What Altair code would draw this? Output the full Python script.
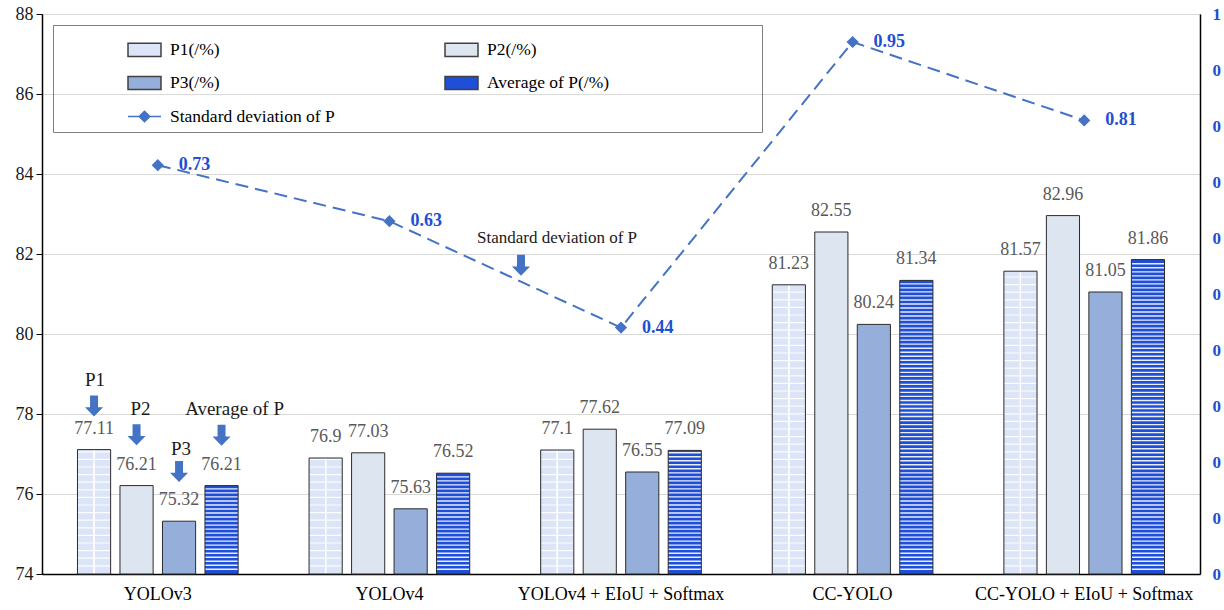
import altair as alt
import pandas as pd

# ---- data -------------------------------------------------------------
categories = ["YOLOv3", "YOLOv4", "YOLOv4 + EIoU + Softmax", "CC-YOLO",
              "CC-YOLO + EIoU + Softmax"]
p1 = [77.11, 76.9, 77.1, 81.23, 81.57]
p2 = [76.21, 77.03, 77.62, 82.55, 82.96]
p3 = [75.32, 75.63, 76.55, 80.24, 81.05]
avg_p = [76.21, 76.52, 77.09, 81.34, 81.86]
std_p = [0.73, 0.63, 0.44, 0.95, 0.81]

series = ["P1(/%)", "P2(/%)", "P3(/%)", "Average of P(/%)"]
std_name = "Standard deviation of P"
# legend entries, listed column by column (two columns, three rows)
legend_names = [series[0], series[2], std_name, series[1], series[3]]

left_ticks = [74, 76, 78, 80, 82, 84, 86, 88]
right_ticks = [0, 0.1, 0.2, 0.3, 0.4, 0.5, 0.6, 0.7, 0.8, 0.9, 1.0]

# callouts on the first group (text above a down arrow)
callout_text = ["P1", "P2", "P3", "Average of P"]
callout_text_y = [78.85, 78.12, 77.12, 78.12]
callout_arrow_y = [78.20, 77.48, 76.56, 77.47]
callout_dx = [1, 4, 2, 13]

# callout pointing at the standard-deviation line
std_callout_cat = "YOLOv4 + EIoU + Softmax"
std_callout_text_y = 82.39
std_callout_arrow_y = 81.72

# ---- styling -----------------------------------------------------------
FONT = "Liberation Serif"
Y_MIN, Y_MAX = 74, 88
series_fill = {"P1(/%)": "#dce4f8", "P2(/%)": "#dde5f0", "P3(/%)": "#96aeda",
               "Average of P(/%)": "#1f4fd8"}
LINE_BLUE = "#4472c4"
LABEL_BLUE = "#1f4fd1"
RECT_PATH = "M-1,-0.4H1V0.4H-1Z"
LINE_PATH = "M-1,0L1,0M0,-0.32L0.32,0L0,0.32L-0.32,0Z"
ARROW_PATH = "M-0.38,-1L0.38,-1L0.38,0.12L0.86,0.12L0,1L-0.86,0.12L-0.38,0.12Z"

# ---- tables ------------------------------------------------------------
bars = pd.DataFrame(
    [
        {"category": c, "series": s, "value": v, "label": f"{v:g}"}
        for s, vals in zip(series, [p1, p2, p3, avg_p])
        for c, v in zip(categories, vals)
    ]
)
line_df = pd.DataFrame(
    {"category": categories, "std": std_p, "label": [f"{v:g}" for v in std_p]}
)


def texture_rows(values, name, step, thick):
    """Thin horizontal bands used as the fill texture of one bar series."""
    rows = []
    for c, v in zip(categories, values):
        k = 1
        while Y_MIN + k * step + thick < v - 0.02:
            y = Y_MIN + k * step
            rows.append({"category": c, "series": name, "y0": y, "y1": y + thick})
            k += 1
    return rows


stripes = pd.DataFrame(
    texture_rows(avg_p, series[3], 0.1005, 0.034)
    + texture_rows(p1, series[0], 0.19, 0.03)
)

callouts = pd.DataFrame(
    {
        "category": [categories[0]] * 4,
        "series": series,
        "text": callout_text,
        "text_y": callout_text_y,
        "arrow_y": callout_arrow_y,
        "dx": callout_dx,
    }
)
std_callout = pd.DataFrame(
    {"category": [std_callout_cat], "text": [std_name],
     "text_y": [std_callout_text_y], "arrow_y": [std_callout_arrow_y]}
)
legend_df = pd.DataFrame({"series": legend_names})

# ---- shared encodings ---------------------------------------------------
X = alt.X(
    "category:N",
    sort=categories,
    scale=alt.Scale(domain=categories, paddingInner=0.266, paddingOuter=0.133),
    axis=alt.Axis(title=None, labelAngle=0, ticks=False, domainColor="#000000",
                  domainWidth=1.5, labelFontSize=18, labelPadding=11,
                  labelColor="#000000", labelLimit=400),
)
XO = alt.XOffset(
    "series:N",
    sort=series,
    scale=alt.Scale(domain=series, paddingInner=0.22, paddingOuter=0.11),
)
YL = alt.Scale(domain=[Y_MIN, Y_MAX], zero=False, nice=False)
YR = alt.Scale(domain=[0, 1], zero=False, nice=False)

left_axis = alt.Axis(title=None, values=left_ticks, grid=True,
                     gridColor="#d9d9d9", tickSize=6, tickColor="#000000",
                     domainColor="#000000", domainWidth=1.5, labelFontSize=18,
                     labelPadding=3, labelColor="#1a1a1a")
right_axis = alt.Axis(orient="right", title=None, values=right_ticks,
                      labelExpr="slice(datum.label, 0, 1)", ticks=False,
                      grid=False, domainColor="#000000", domainWidth=1.5,
                      labelColor=LABEL_BLUE, labelFontWeight="bold",
                      labelFontSize=17, labelPadding=12)


def yl(field):
    return alt.Y(field, scale=YL, axis=left_axis, title=None)


def yr(field):
    return alt.Y(field, scale=YR, axis=right_axis, title=None)


fill_scale = alt.Scale(
    domain=legend_names,
    range=[series_fill.get(n, LINE_BLUE) for n in legend_names],
)
stroke_scale = alt.Scale(
    domain=legend_names,
    range=[LINE_BLUE if n == std_name else "#404040" for n in legend_names],
)
shape_scale = alt.Scale(
    domain=legend_names,
    range=[LINE_PATH if n == std_name else RECT_PATH for n in legend_names],
)

legend = alt.Legend(
    title=" ",
    titleOrient="right",
    titlePadding=146,
    titleFontSize=6,
    orient="none",
    legendX=11,
    legendY=11,
    columns=2,
    gridAlign="all",
    padding=7,
    columnPadding=42,
    rowPadding=5.5,
    strokeColor="#7f7f7f",
    symbolSize=1089,
    symbolStrokeWidth=1.5,
    symbolOffset=67,
    symbolOpacity=1,
    labelOffset=8,
    labelFont=FONT,
    labelFontSize=17.5,
    labelColor="#000000",
    labelLimit=400,
)

# ---- left-axis layers (bars, textures, labels) ---------------------------
bar_layer = alt.Chart(bars).mark_bar(strokeWidth=0).encode(
    x=X,
    xOffset=XO,
    y=yl("value:Q"),
    y2=alt.datum(Y_MIN),
    fill=alt.Fill("series:N", scale=fill_scale, legend=legend),
)

stripe_layer = alt.Chart(stripes).mark_bar(color="#ffffff", opacity=0.9).encode(
    x=X, xOffset=XO, y=yl("y0:Q"), y2="y1:Q",
)

p1_only = alt.Chart(bars).transform_filter(alt.datum.series == series[0])
grid_cols = [
    p1_only.mark_rule(color="#ffffff", strokeWidth=1.2, opacity=0.9, xOffset=off)
    .encode(x=X, xOffset=XO, y=yl("value:Q"), y2=alt.datum(Y_MIN))
    for off in (-8.3, 0, 8.3)
]

outline_layer = alt.Chart(bars).mark_bar(
    fillOpacity=0, stroke="#2b2b2b", strokeWidth=1
).encode(x=X, xOffset=XO, y=yl("value:Q"), y2=alt.datum(Y_MIN))

value_labels = alt.Chart(bars).mark_text(
    font=FONT, fontSize=18, color="#595959", baseline="alphabetic", dy=-16
).encode(x=X, xOffset=XO, y=yl("value:Q"), text="label:N")

# callout words, each with its own horizontal nudge
callout_text_layer = alt.layer(*[
    alt.Chart(callouts.iloc[[i]]).mark_text(
        font=FONT, fontSize=19, color="#1a1a1a", baseline="middle", dx=float(d)
    ).encode(x=X, xOffset=XO, y=yl("text_y:Q"), text="text:N")
    for i, d in enumerate(callout_dx)
])

callout_arrows = alt.Chart(callouts).mark_point(
    shape=ARROW_PATH, size=441, filled=True, color=LINE_BLUE, opacity=1,
    strokeWidth=0
).encode(x=X, xOffset=XO, y=yl("arrow_y:Q"))

std_callout_text = alt.Chart(std_callout).mark_text(
    font=FONT, fontSize=17, color="#1a1a1a", baseline="middle", dx=-64
).encode(x=X, y=yl("text_y:Q"), text="text:N")

std_callout_arrow = alt.Chart(std_callout).mark_point(
    shape=ARROW_PATH, size=441, filled=True, color=LINE_BLUE, opacity=1,
    strokeWidth=0, xOffset=-100
).encode(x=X, y=yl("arrow_y:Q"))

legend_layer = alt.Chart(legend_df).mark_point(filled=True, opacity=0).encode(
    fill=alt.Fill("series:N", scale=fill_scale, legend=legend),
    stroke=alt.Stroke("series:N", scale=stroke_scale, legend=legend),
    shape=alt.Shape("series:N", scale=shape_scale, legend=legend),
)

left = alt.layer(
    bar_layer, stripe_layer, *grid_cols, outline_layer, value_labels,
    callout_text_layer, callout_arrows, std_callout_text, std_callout_arrow,
    legend_layer,
)

# ---- right-axis layers (standard deviation line) -------------------------
line_base = alt.Chart(line_df).encode(x=X)
std_line = line_base.mark_line(
    color=LINE_BLUE, strokeWidth=2, strokeDash=[13, 7]
).encode(y=yr("std:Q"))
std_points = line_base.mark_point(
    shape="diamond", size=150, filled=True, color=LINE_BLUE, opacity=1
).encode(y=yr("std:Q"))
std_labels = line_base.mark_text(
    font=FONT, fontSize=18, fontWeight="bold", color=LABEL_BLUE,
    align="left", baseline="middle", dx=21
).encode(y=yr("std:Q"), text="label:N")

right = alt.layer(std_line, std_points, std_labels)

chart = (
    alt.layer(left, right)
    .resolve_scale(y="independent")
    .properties(
        width=1158,
        height=560,
        autosize=alt.AutoSizeParams(type="none"),
        padding={"left": 42, "top": 14, "right": 24, "bottom": 36},
        background="#ffffff",
    )
    .configure_view(stroke="#595959", strokeWidth=1)
    .configure_axis(labelFont=FONT)
    .configure_legend(labelFont=FONT, titleFont=FONT)
)

chart.save("out.html", embed_options={"renderer": "svg", "actions": False})
